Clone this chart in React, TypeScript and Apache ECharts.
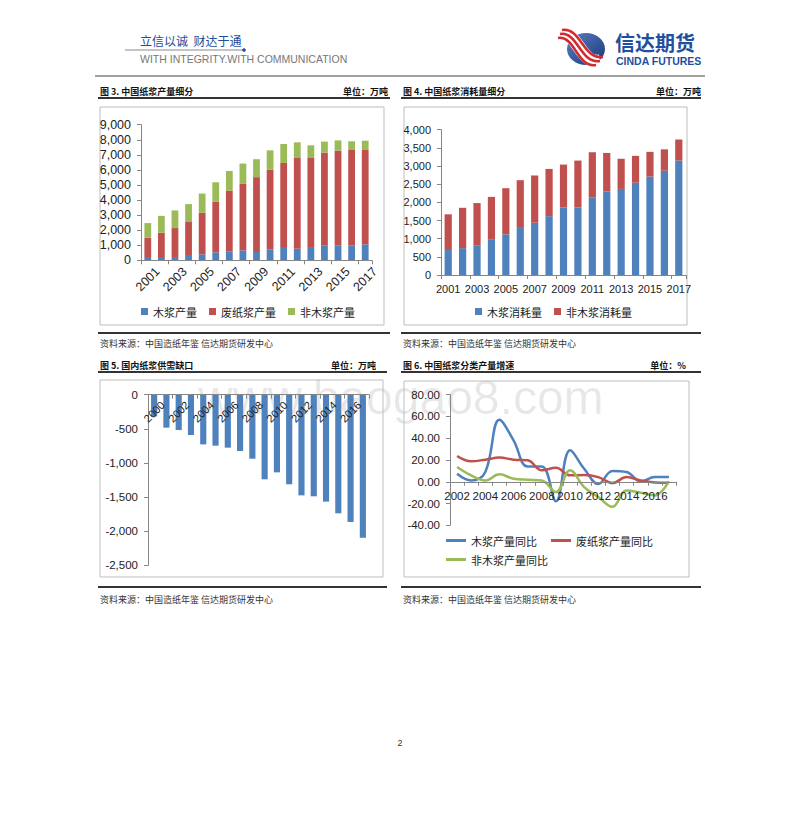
import React, { useEffect, useRef } from "react";
import * as echarts from "echarts";

// ---------- data ----------
const yearsA = ["2001","2002","2003","2004","2005","2006","2007","2008","2009","2010","2011","2012","2013","2014","2015","2016","2017"];
const woodPulpOutput = [220,220,220,290,400,530,600,660,550,710,820,770,880,970,970,990,1060];
const wastePulpOutput = [1280,1610,1920,2250,2750,3350,4030,4410,4970,5290,5640,6020,5910,6180,6310,6330,6260];
const nonWoodPulpOutput = [970,1120,1170,1190,1280,1300,1300,1350,1190,1300,1260,1040,840,730,680,580,620];

const woodPulpUse = [690,740,820,970,1120,1320,1440,1620,1860,1860,2130,2300,2370,2540,2710,2870,3150];
const nonWoodPulpUse = [980,1110,1160,1180,1270,1290,1300,1300,1180,1290,1250,1060,830,740,680,590,580];

const yearsGap = ["2000","2001","2002","2003","2004","2005","2006","2007","2008","2009","2010","2011","2012","2013","2014","2015","2016","2017"];
const supplyGap = [-317,-483,-518,-591,-728,-747,-776,-825,-938,-1240,-1138,-1313,-1475,-1489,-1567,-1738,-1865,-2095];

const yearsYoY = ["2002","2003","2004","2005","2006","2007","2008","2009","2010","2011","2012","2013","2014","2015","2016","2017"];
const woodYoY = [7.4,1.2,9,57,38,14,14,-18,29,12,-2,10,9,0.3,4.3,4.3];
const wasteYoY = [23.7,18.8,20.3,22.2,20.3,19.7,10.5,12.9,5.9,6.2,4.3,-1.2,4.3,1.2,-0.6,-0.9];
const nonWoodYoY = [13.5,5.8,1.2,6.8,2.8,1.8,1.2,-9.5,10.5,-5,-14,-23,-8,-10,-12.6,0.6];

// ---------- styles ----------
const FONT = '"Liberation Sans", Arial, sans-serif';
const CJK = '"Noto Sans CJK SC", sans-serif';
const BLUE = "#4f81bd";
const RED = "#c0504d";
const GREEN = "#9bbb59";
const AXIS = "#868686";

const fmtK = (v: number) => v.toLocaleString("en-US");

function valueAxis(gridIndex: number, min: number, max: number, interval: number, fmt: (v: number) => string, fontSize: number, margin: number) {
  return {
    type: "value",
    gridIndex,
    min,
    max,
    interval,
    splitLine: { show: false },
    axisLine: { show: true, lineStyle: { color: AXIS } },
    axisTick: { show: true, length: 4, lineStyle: { color: AXIS } },
    axisLabel: { fontSize, fontFamily: FONT, color: "#222", margin, formatter: fmt },
  };
}

function catAxis(gridIndex: number, data: string[], rotate: number, tickInterval: number, fontSize: number, margin: number, offset: number, extraLabel: any = {}) {
  return {
    type: "category",
    gridIndex,
    data,
    position: "bottom",
    offset,
    z: 5,
    boundaryGap: true,
    axisLine: { show: true, onZero: false, lineStyle: { color: AXIS } },
    axisTick: { show: true, length: 4, interval: tickInterval, lineStyle: { color: AXIS } },
    axisLabel: { interval: 1, rotate, fontSize, fontFamily: FONT, color: "#222", margin, ...extraLabel },
  };
}

function panel(x0: number, x1: number, titleY: number, title: string, unit: string, unitRight: number,
  frame: [number, number, number, number], bottomY: number, sourceY: number) {
  const t = titleY;
  return [
    { type: "text", x: x0 + 2, y: t, style: { text: title, font: `bold 9px ${CJK}`, fill: "#111", verticalAlign: "middle" } },
    { type: "text", x: unitRight, y: t, style: { text: unit, font: `bold 9px ${CJK}`, fill: "#111", align: "right", verticalAlign: "middle" } },
    { type: "line", shape: { x1: x0, y1: t + 7, x2: x1, y2: t + 7 }, style: { stroke: "#333", lineWidth: 2 } },
    { type: "rect", shape: { x: frame[0], y: frame[1], width: frame[2], height: frame[3] }, style: { fill: "none", stroke: "#bdbdbd", lineWidth: 1 } },
    { type: "line", shape: { x1: x0, y1: bottomY, x2: x1, y2: bottomY }, style: { stroke: "#333", lineWidth: 2 } },
    { type: "text", x: x0 + 2, y: sourceY, style: { text: "资料来源：中国造纸年鉴 信达期货研发中心", font: `9px ${CJK}`, fill: "#333", verticalAlign: "middle" } },
  ];
}

// grid geometry (pixels)
const G5 = { left: 148, top: 394.7, width: 221, height: 170.6 };
const G6 = { left: 450, top: 394.7, width: 226, height: 130.6 };
const ZERO6_OFFSET = -(G6.height * 40) / 120; // axis line at value 0

export default function App() {
  const ref = useRef<HTMLDivElement>(null);

  useEffect(() => {
    if (!ref.current) return;
    const chart = echarts.init(ref.current, undefined, { renderer: "svg" });

    const legendBase = {
      selectedMode: false,
      padding: 0,
      icon: "rect",
      textStyle: { fontSize: 11, fontFamily: CJK, color: "#222" },
    };

    const graphic: any[] = [
      // watermark
      { type: "text", x: 198, y: 397, z: -10, style: { text: "www.baogao8.com", font: `48px ${FONT}`, fill: "rgba(0,0,0,0.09)", verticalAlign: "middle" } },
      // header
      { type: "text", x: 140, y: 40, style: { text: "立信以诚  财达于通", font: `12px ${CJK}`, fill: "#1d4d9c", verticalAlign: "middle" } },
      { type: "line", shape: { x1: 125, y1: 50, x2: 243, y2: 50 }, style: { stroke: "#8a8a8a", lineWidth: 1 } },
      { type: "circle", shape: { cx: 244, cy: 50, r: 1.8 }, style: { fill: "#1d4d9c" } },
      { type: "text", x: 140, y: 59, style: { text: "WITH INTEGRITY.WITH COMMUNICATION", font: `10.5px ${FONT}`, fill: "#777", verticalAlign: "middle" } },
      { type: "line", shape: { x1: 95, y1: 76, x2: 705, y2: 76 }, style: { stroke: "#444", lineWidth: 1.2 } },
      // logo
      { type: "ellipse", shape: { cx: 586, cy: 49, rx: 19, ry: 16 }, style: { fill: new echarts.graphic.LinearGradient(0, 0, 1, 1, [{ offset: 0, color: "#5a7fc4" }, { offset: 1, color: "#1b3778" }]) } },
      { type: "bezierCurve", shape: { x1: 560, y1: 34, cpx1: 578, cpy1: 31, cpx2: 580, cpy2: 64, x2: 600, y2: 61 }, style: { stroke: "#fff", lineWidth: 13, fill: "none" } },
      { type: "bezierCurve", shape: { x1: 562, y1: 30, cpx1: 581, cpy1: 27, cpx2: 583, cpy2: 60, x2: 603, y2: 57 }, style: { stroke: "#d42a2e", lineWidth: 2.6, fill: "none" } },
      { type: "bezierCurve", shape: { x1: 560, y1: 34, cpx1: 578, cpy1: 31, cpx2: 580, cpy2: 64, x2: 600, y2: 61 }, style: { stroke: "#d42a2e", lineWidth: 2.6, fill: "none" } },
      { type: "bezierCurve", shape: { x1: 558, y1: 38, cpx1: 575, cpy1: 35, cpx2: 577, cpy2: 68, x2: 596, y2: 65 }, style: { stroke: "#d42a2e", lineWidth: 2.6, fill: "none" } },
      { type: "text", x: 615, y: 42, style: { text: "信达期货", font: `bold 20px ${CJK}`, fill: "#1f4f9e", verticalAlign: "middle" } },
      { type: "text", x: 616, y: 61, style: { text: "CINDA FUTURES", font: `bold 10.5px ${FONT}`, fill: "#1f4f9e", verticalAlign: "middle" } },
      // panels
      ...panel(98, 390, 91, "图 3. 中国纸浆产量细分", "单位：万吨", 388, [100, 107, 284, 218], 333, 343),
      ...panel(401, 701, 91, "图 4. 中国纸浆消耗量细分", "单位：万吨", 701, [404, 107, 283, 218], 333, 343),
      ...panel(98, 387, 365, "图 5. 国内纸浆供需缺口", "单位：万吨", 376, [100, 380, 283, 197], 587, 599),
      ...panel(401, 701, 365, "图 6. 中国纸浆分类产量增速", "单位：%", 686, [404, 381, 285, 196], 587, 599),
      // page number
      { type: "text", x: 400, y: 743, style: { text: "2", font: `9px ${FONT}`, fill: "#333", align: "center", verticalAlign: "middle" } },
    ];

    chart.setOption({
      animation: false,
      backgroundColor: "#fff",
      grid: [
        { left: 141, top: 124.7, width: 231, height: 135.6, outerBoundsMode: "none" },
        { left: 441, top: 129.7, width: 245, height: 145.3, outerBoundsMode: "none" },
        { ...G5, outerBoundsMode: "none" },
        { ...G6, outerBoundsMode: "none" },
      ],
      xAxis: [
        catAxis(0, yearsA, 45, 1, 12.5, 19, 0, { align: "center", verticalAlign: "middle" }),
        catAxis(1, yearsA, 0, 1, 11, 8, 0),
        catAxis(2, yearsGap, 45, 1, 11, 17, -G5.height, { align: "center", verticalAlign: "middle" }),
        catAxis(3, yearsYoY, 0, 0, 11.5, 8, ZERO6_OFFSET),
      ],
      yAxis: [
        valueAxis(0, 0, 9000, 1000, fmtK, 12.5, 10),
        valueAxis(1, 0, 4000, 500, fmtK, 11, 10),
        valueAxis(2, -2500, 0, 500, fmtK, 11.5, 10),
        valueAxis(3, -40, 80, 20, (v: number) => v.toFixed(2), 11.5, 10),
      ],
      legend: [
        { ...legendBase, left: 141, top: 306, itemWidth: 7, itemHeight: 7, itemGap: 12, data: ["木浆产量", "废纸浆产量", "非木浆产量"] },
        { ...legendBase, left: 475, top: 306, itemWidth: 7, itemHeight: 7, itemGap: 12, data: ["木浆消耗量", "非木浆消耗量"] },
        { ...legendBase, left: 446, top: 535, itemWidth: 20, itemHeight: 3, itemGap: 14, data: ["木浆产量同比", "废纸浆产量同比"] },
        { ...legendBase, left: 446, top: 554, itemWidth: 20, itemHeight: 3, itemGap: 14, data: ["非木浆产量同比"] },
      ],
      series: [
        { name: "木浆产量", type: "bar", xAxisIndex: 0, yAxisIndex: 0, stack: "out", barWidth: "50%", itemStyle: { color: BLUE }, data: woodPulpOutput },
        { name: "废纸浆产量", type: "bar", xAxisIndex: 0, yAxisIndex: 0, stack: "out", barWidth: "50%", itemStyle: { color: RED }, data: wastePulpOutput },
        { name: "非木浆产量", type: "bar", xAxisIndex: 0, yAxisIndex: 0, stack: "out", barWidth: "50%", itemStyle: { color: GREEN }, data: nonWoodPulpOutput },
        { name: "木浆消耗量", type: "bar", xAxisIndex: 1, yAxisIndex: 1, stack: "use", barWidth: "50%", itemStyle: { color: BLUE }, data: woodPulpUse },
        { name: "非木浆消耗量", type: "bar", xAxisIndex: 1, yAxisIndex: 1, stack: "use", barWidth: "50%", itemStyle: { color: RED }, data: nonWoodPulpUse },
        { name: "供需缺口", type: "bar", xAxisIndex: 2, yAxisIndex: 2, barWidth: "50%", itemStyle: { color: BLUE }, data: supplyGap },
        { name: "木浆产量同比", type: "line", xAxisIndex: 3, yAxisIndex: 3, smooth: 0.4, showSymbol: false, lineStyle: { width: 2.5, color: BLUE }, itemStyle: { color: BLUE }, data: woodYoY },
        { name: "废纸浆产量同比", type: "line", xAxisIndex: 3, yAxisIndex: 3, smooth: 0.4, showSymbol: false, lineStyle: { width: 2.5, color: RED }, itemStyle: { color: RED }, data: wasteYoY },
        { name: "非木浆产量同比", type: "line", xAxisIndex: 3, yAxisIndex: 3, smooth: 0.4, showSymbol: false, lineStyle: { width: 2.5, color: GREEN }, itemStyle: { color: GREEN }, data: nonWoodYoY },
      ],
      graphic,
    });

    return () => chart.dispose();
  }, []);

  return (
    <div
      ref={ref}
      style={{ position: "fixed", left: 0, top: 0, width: 800, height: 816, background: "#fff" }}
    />
  );
}
